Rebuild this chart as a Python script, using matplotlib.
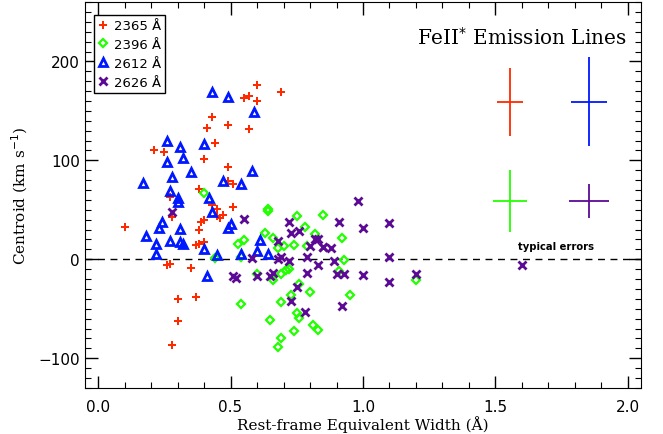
import numpy as np
import matplotlib
matplotlib.use("Agg")
import matplotlib.pyplot as plt
from matplotlib.ticker import MultipleLocator

# FeII* 2365
ew_2365 = [0.10, 0.21, 0.25, 0.60, 0.69, 0.55, 0.57, 0.60, 0.43, 0.41, 0.49, 0.57,
           0.44, 0.40, 0.49, 0.49, 0.51, 0.38, 0.27, 0.43, 0.45, 0.51, 0.28, 0.47,
           0.45, 0.46, 0.40, 0.39, 0.38, 0.40, 0.38, 0.37, 0.26, 0.27, 0.35, 0.30,
           0.37, 0.30, 0.28]
v_2365 = [33, 110, 108, 176, 169, 163, 165, 160, 144, 133, 136, 132,
          118, 101, 93, 79, 76, 71, 63, 55, 51, 53, 43, 45,
          44, 42, 40, 38, 30, 17, 15, 14, -6, -5, -9, -40,
          -38, -62, -87]

# FeII* 2396
ew_2396 = [0.40, 0.64, 0.64, 0.75, 0.85, 0.63, 0.78, 0.82, 0.53, 0.55, 0.66, 0.68,
           0.70, 0.74, 0.79, 0.54, 0.60, 0.66, 0.69, 0.71, 0.72, 0.76, 0.80, 0.73,
           0.54, 0.69, 0.65, 0.75, 0.76, 0.81, 0.83, 0.74, 0.69, 0.68, 0.92, 0.93,
           0.91, 1.20, 0.95, 0.44]
v_2396 = [67, 51, 49, 44, 45, 27, 33, 26, 15, 19, 22, 11,
          13, 14, 13, 2, -15, -21, -15, -11, -10, -25, -33, -36,
          -45, -43, -61, -54, -59, -66, -71, -73, -80, -89, 22, -1,
          -12, -21, -36, 1]

# FeII* 2612
ew_2612 = [0.43, 0.49, 0.59, 0.26, 0.31, 0.40, 0.32, 0.26, 0.35, 0.58, 0.28, 0.17,
           0.47, 0.54, 0.27, 0.30, 0.30, 0.42, 0.24, 0.23, 0.18, 0.22, 0.27, 0.31,
           0.31, 0.32, 0.22, 0.40, 0.43, 0.49, 0.50, 0.45, 0.41, 0.54, 0.61, 0.60,
           0.64]
v_2612 = [169, 164, 149, 120, 113, 117, 102, 98, 88, 89, 83, 77,
          79, 76, 69, 62, 58, 62, 38, 32, 24, 15, 18, 31,
          17, 15, 5, 10, 48, 32, 36, 4, -17, 5, 19, 8,
          5]

# FeII* 2626
ew_2626 = [0.55, 0.72, 0.76, 0.73, 0.82, 0.83, 0.68, 0.80, 0.85, 0.58, 0.68, 0.69,
           0.72, 0.79, 0.83, 0.51, 0.52, 0.60, 0.66, 0.65, 0.79, 0.75, 0.73, 0.78,
           0.98, 0.91, 1.00, 1.10, 0.85, 0.88, 0.89, 1.10, 0.90, 0.93, 1.00, 1.10,
           1.20, 0.92, 1.60, 0.28]
v_2626 = [41, 38, 29, 27, 20, 20, 18, 13, 12, 1, 0, 2,
          -2, 2, -6, -17, -19, -17, -14, -17, -14, -28, -42, -53,
          59, 38, 32, 37, 12, 11, -2, 2, -15, -15, -16, -23,
          -15, -47, -6, 48]

# typical error bars: x, y, xerr, yerr
err_x = [1.555, 1.853, 1.555, 1.853]
err_y = [159, 159, 59, 59]
err_dx = [0.050, 0.068, 0.065, 0.074]
err_dy = [34, 45, 31, 17]

red = '#ff2a00'
green = '#22ff00'
blue = '#0018ff'
purple = '#5c0a96'
err_cols = [red, blue, green, purple]

plt.rcParams['font.family'] = 'DejaVu Sans'

fig = plt.figure(figsize=(6.63, 4.35), dpi=100)
ax = fig.add_axes([0.128, 0.106, 0.839, 0.887])

ax.axhline(0, color='black', ls=(0, (5, 4)), lw=1)

ax.plot(ew_2365, v_2365, ls='none', marker='P', ms=6, color=red, mew=0, label='2365 Å')
ax.plot(ew_2396, v_2396, ls='none', marker='D', ms=4.5, mfc='none', mec=green, mew=1.6, label='2396 Å')
ax.plot(ew_2612, v_2612, ls='none', marker='^', ms=6, mfc='none', mec=blue, mew=2, label='2612 Å')
ax.plot(ew_2626, v_2626, ls='none', marker='x', ms=5.5, color=purple, mew=2, label='2626 Å')

for x, y, dx, dy, c in zip(err_x, err_y, err_dx, err_dy, err_cols):
    ax.errorbar(x, y, xerr=dx, yerr=dy, fmt='none', ecolor=c, elinewidth=1.3, capsize=0)

ax.text(1.585, 13, 'typical errors', fontsize=7.2, fontweight='bold', ha='left', va='center')
ax.text(1.60, 225, r'FeII$^{*}$ Emission Lines', fontsize=14.4, family='DejaVu Serif', ha='center', va='center')

ax.set_xlim(-0.05, 2.05)
ax.set_ylim(-130, 260)
ax.xaxis.set_major_locator(MultipleLocator(0.5))
ax.xaxis.set_minor_locator(MultipleLocator(0.1))
ax.yaxis.set_major_locator(MultipleLocator(100))
ax.yaxis.set_minor_locator(MultipleLocator(10))
ax.xaxis.set_major_formatter(matplotlib.ticker.FormatStrFormatter('%.1f'))
ax.tick_params(which='both', direction='in', top=True, right=True, labelsize=11)
ax.tick_params(which='major', length=9, width=1)
ax.tick_params(which='minor', length=4.5, width=0.8)
ax.tick_params(axis='x', pad=8)

ax.set_xlabel('Rest-frame Equivalent Width (Å)', family='DejaVu Serif', fontsize=11, labelpad=1)
ax.set_ylabel(r'Centroid (km s$^{-1}$)', family='DejaVu Serif', fontsize=11, labelpad=6)

leg = ax.legend(loc='upper left', fontsize=9.5, handlelength=0.8, handletextpad=0.4,
                borderpad=0.3, labelspacing=0.45, fancybox=False, edgecolor='black',
                framealpha=1, bbox_to_anchor=(0.016, 0.966), borderaxespad=0)
leg.get_frame().set_linewidth(1)

fig.savefig('out.png', dpi=100)
